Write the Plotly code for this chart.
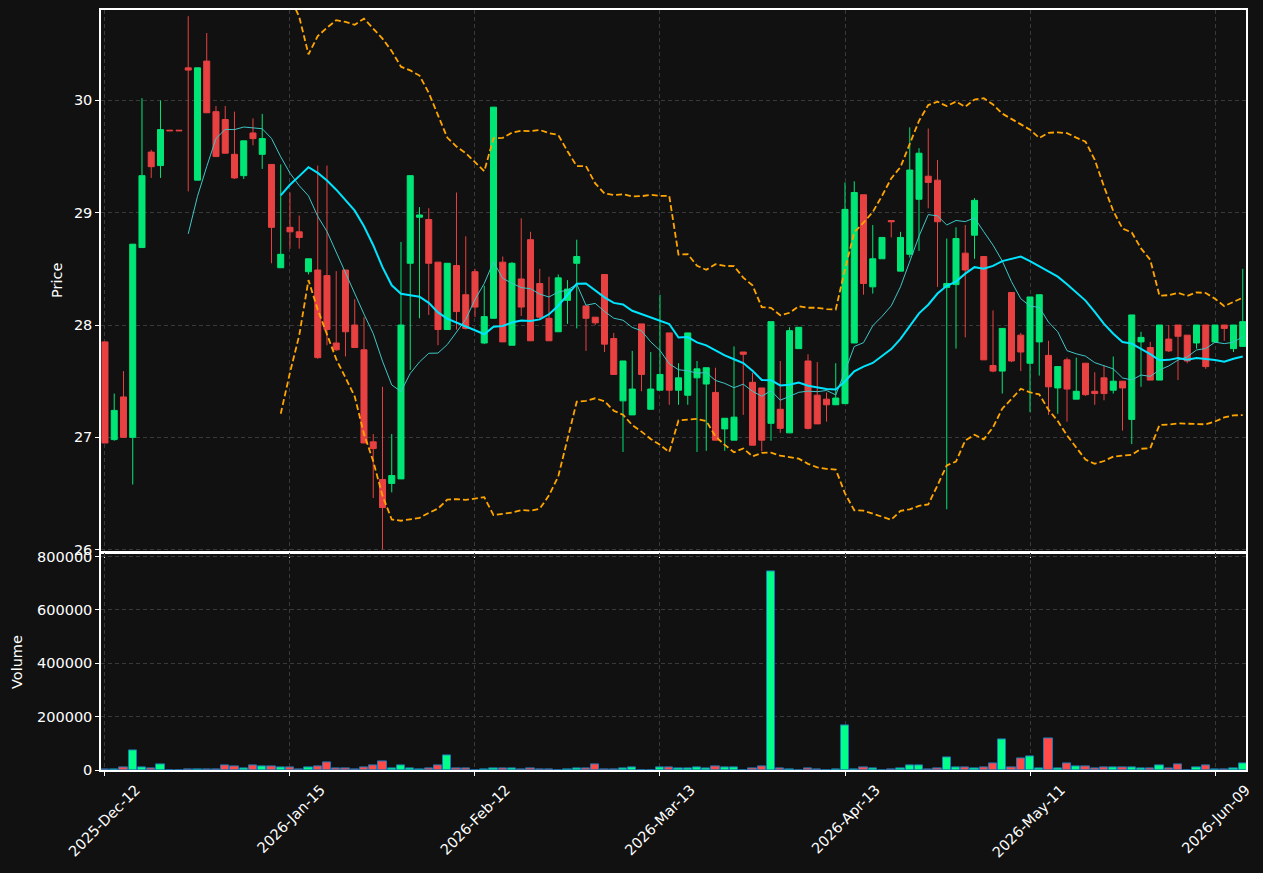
import plotly.graph_objects as go
import pandas as pd

# ---------------- data ----------------
opens = [27.85, 26.98, 27.36, 27.00, 28.69, 29.54, 29.42, 29.735, 29.735, 30.29,
         29.29, 30.35, 29.90, 29.83, 29.52, 29.33, 29.71, 29.52, 29.43, 28.51,
         28.87, 28.83, 28.475, 28.49, 28.44, 27.84, 28.49, 28.00, 27.78, 26.96,
         26.625, 26.59, 26.63, 28.55, 28.96, 28.94, 28.56, 27.96, 28.53, 28.27,
         28.475, 27.84, 28.06, 28.56, 27.82, 28.41, 28.76, 28.37, 28.06, 27.94,
         28.22, 28.55, 28.17, 28.07, 28.45, 27.88, 27.325, 27.20, 28.01, 27.25,
         27.42, 27.93, 27.42, 27.375, 27.53, 27.475, 27.40, 27.075, 26.975, 27.76,
         27.49, 27.44, 27.125, 27.25, 27.04, 27.79, 27.68, 27.375, 27.34, 27.29,
         27.30, 27.84, 29.16, 28.34, 28.59, 28.93, 28.48, 28.63, 29.12, 29.325,
         29.29, 28.335, 28.36, 28.64, 28.80, 28.61, 27.64, 27.59, 28.29, 27.91,
         27.66, 27.85, 27.73, 27.44, 27.69, 27.34, 27.66, 27.41, 27.53, 27.42,
         27.50, 27.16, 27.85, 27.80, 27.51, 27.875, 28.00, 27.91, 27.84, 28.00,
         27.85, 28.00, 27.79, 27.81]

highs = [27.85, 27.39, 27.59, 28.72, 30.02, 29.56, 30.00, 29.735, 29.735, 30.75,
         30.29, 30.60, 29.95, 29.95, 29.90, 29.64, 29.84, 29.88, 29.43, 29.43,
         29.18, 28.975, 28.59, 29.42, 29.42, 28.48, 28.49, 28.23, 28.07, 27.03,
         27.45, 27.03, 28.74, 29.33, 29.05, 29.04, 28.56, 28.55, 29.18, 28.79,
         28.50, 28.35, 29.94, 28.61, 28.56, 28.95, 28.83, 28.50, 28.43, 28.45,
         28.40, 28.76, 28.17, 28.07, 28.45, 27.93, 27.68, 27.77, 28.01, 27.76,
         28.27, 27.93, 27.66, 27.93, 27.68, 27.62, 27.62, 27.17, 27.81, 27.76,
         27.575, 27.44, 28.03, 27.68, 27.98, 27.98, 27.74, 27.67, 27.40, 27.66,
         29.27, 29.28, 29.16, 28.89, 28.78, 28.93, 28.83, 29.76, 29.575, 29.75,
         29.47, 28.77, 28.87, 28.89, 29.13, 28.61, 28.13, 27.97, 28.29, 27.93,
         28.25, 28.27, 27.86, 27.63, 27.71, 27.71, 27.66, 27.58, 27.64, 27.72,
         27.50, 28.09, 27.94, 27.85, 28.00, 28.00, 28.00, 27.91, 28.00, 28.00,
         28.00, 28.00, 28.00, 28.50]

lows = [26.95, 26.97, 27.00, 26.58, 28.69, 29.31, 29.31, 29.73, 29.73, 29.19,
        29.29, 29.89, 29.50, 29.53, 29.30, 29.30, 29.60, 29.39, 28.55, 28.51,
        28.68, 28.68, 28.45, 27.70, 27.82, 27.77, 27.72, 27.80, 26.95, 26.46,
        26.00, 26.51, 26.63, 27.60, 28.06, 28.09, 27.82, 27.96, 27.96, 27.96,
        28.07, 27.83, 28.06, 27.85, 27.82, 28.08, 27.86, 28.05, 27.86, 27.94,
        28.01, 27.97, 27.77, 28.00, 27.76, 27.56, 26.87, 27.20, 27.41, 27.25,
        27.42, 27.29, 27.29, 27.29, 26.87, 26.88, 26.975, 26.88, 26.975, 27.20,
        26.93, 26.875, 26.97, 27.04, 27.04, 27.79, 27.07, 27.12, 27.14, 27.29,
        27.30, 27.84, 28.27, 28.28, 28.59, 28.78, 28.48, 28.60, 28.66, 29.04,
        28.34, 26.36, 27.79, 27.89, 28.59, 27.69, 27.58, 27.39, 27.67, 27.59,
        27.225, 27.55, 27.20, 27.21, 27.14, 27.34, 27.37, 27.29, 27.33, 27.39,
        27.06, 26.94, 27.45, 27.51, 27.51, 27.76, 27.51, 27.66, 27.79, 27.61,
        27.85, 27.86, 27.76, 27.81]

closes = [26.95, 27.24, 27.00, 28.72, 29.33, 29.41, 29.74, 29.73, 29.73, 30.27,
          30.29, 29.89, 29.50, 29.53, 29.31, 29.64, 29.66, 29.66, 28.87, 28.63,
          28.83, 28.78, 28.59, 27.71, 27.96, 27.78, 27.94, 27.80, 26.95, 26.90,
          26.375, 26.66, 28.00, 29.33, 28.98, 28.55, 27.96, 28.55, 28.12, 27.97,
          28.16, 28.075, 29.94, 27.85, 28.55, 28.16, 27.86, 28.07, 27.86, 28.42,
          28.32, 28.61, 28.06, 28.02, 27.83, 27.56, 27.68, 27.43, 27.56, 27.43,
          27.56, 27.42, 27.53, 27.93, 27.61, 27.62, 26.975, 27.17, 27.18, 27.74,
          26.93, 26.975, 28.03, 27.08, 27.95, 27.98, 27.08, 27.12, 27.29, 27.35,
          29.03, 29.18, 28.37, 28.59, 28.78, 28.92, 28.78, 29.38, 29.53, 29.27,
          28.92, 28.37, 28.77, 28.49, 29.11, 27.69, 27.59, 27.97, 27.68, 27.76,
          28.25, 28.27, 27.45, 27.63, 27.43, 27.41, 27.38, 27.39, 27.39, 27.50,
          27.44, 28.09, 27.89, 27.51, 28.00, 27.77, 27.90, 27.68, 28.00, 27.63,
          28.00, 27.97, 28.00, 28.03]

volumes = [2000, 2000, 10000, 74500, 10000, 5000, 21500, 0, 0, 2000,
           2000, 2000, 2000, 17700, 12600, 5000, 17700, 12600, 12600, 8800,
           8800, 1000, 10100, 12600, 29000, 5000, 5000, 1000, 10100, 17700,
           32800, 5000, 17700, 5000, 1000, 5000, 17700, 55500, 5000, 5000,
           0, 2000, 6300, 6300, 6300, 2000, 6300, 2000, 2000, 0,
           2000, 6300, 6300, 21500, 2000, 2000, 6300, 10100, 0, 0,
           10100, 10100, 5000, 5000, 10100, 6300, 13900, 10100, 10100, 0,
           6300, 13900, 744000, 5000, 2000, 0, 6300, 2000, 0, 2000,
           169000, 2000, 10100, 6300, 0, 2000, 6300, 17700, 17700, 2000,
           6300, 48000, 8800, 10100, 5000, 10100, 25200, 116000, 10100, 44200,
           51700, 5000, 120000, 5000, 25200, 12600, 12600, 5000, 10100, 10100,
           10100, 10100, 5000, 5000, 17700, 5000, 21500, 0, 10100, 17700,
           2000, 2000, 6300, 25200]

tick_positions = [0, 20, 40, 60, 80, 100, 120]
tick_labels = ['2025-Dec-12', '2026-Jan-15', '2026-Feb-12', '2026-Mar-13',
               '2026-Apr-13', '2026-May-11', '2026-Jun-09']

price_ticks = [26, 27, 28, 29, 30]
volume_ticks = [0, 200000, 400000, 600000, 800000]

# ---------------- indicators (moving averages / Bollinger bands of the closes) ----
idx = list(range(len(closes)))
cs = pd.Series(closes)
ma10 = cs.rolling(10).mean()
ma20 = cs.rolling(20).mean()
sd20 = cs.rolling(20).std(ddof=0)
bb_up = ma20 + 2 * sd20
bb_lo = ma20 - 2 * sd20

# ---------------- styling ----------------
BG = '#111111'
UP = '#00e676'
DOWN = '#e84142'
VUP = '#00ff88'
VDOWN = '#ff4a4a'
GRID = '#3a3a3a'
FONT = dict(family='DejaVu Sans', size=14.5, color='#ffffff')

vol_colors = [VUP if c > o else VDOWN for o, c in zip(opens, closes)]

fig = go.Figure()

fig.add_trace(go.Candlestick(
    x=idx, open=opens, high=highs, low=lows, close=closes,
    increasing=dict(line=dict(color=UP, width=1), fillcolor=UP),
    decreasing=dict(line=dict(color=DOWN, width=1), fillcolor=DOWN),
    whiskerwidth=0, showlegend=False, xaxis='x', yaxis='y'))

fig.add_trace(go.Scatter(x=idx, y=bb_up, mode='lines', showlegend=False,
                         line=dict(color='#ffa500', width=1.8, dash='6px,3px'),
                         xaxis='x', yaxis='y'))
fig.add_trace(go.Scatter(x=idx, y=bb_lo, mode='lines', showlegend=False,
                         line=dict(color='#ffa500', width=1.8, dash='6px,3px'),
                         xaxis='x', yaxis='y'))
fig.add_trace(go.Scatter(x=idx, y=ma10, mode='lines', showlegend=False,
                         line=dict(color='#3fc6c6', width=1),
                         xaxis='x', yaxis='y'))
fig.add_trace(go.Scatter(x=idx, y=ma20, mode='lines', showlegend=False,
                         line=dict(color='#00e5ff', width=2),
                         xaxis='x', yaxis='y'))

fig.add_trace(go.Bar(x=idx, y=volumes, width=0.9, showlegend=False,
                     marker=dict(color=vol_colors, line=dict(color='#1f77b4', width=1)),
                     xaxis='x2', yaxis='y2'))

axis_common = dict(showline=True, linecolor='#ffffff', linewidth=1.5, mirror=True,
                   ticks='outside', ticklen=4, tickwidth=1, tickcolor='#ffffff',
                   showgrid=True, gridcolor=GRID, griddash='4px,3px', gridwidth=1,
                   zeroline=False, tickfont=FONT, automargin=False)

XR = [-0.43, 123.35]

fig.update_layout(
    width=1263, height=873,
    paper_bgcolor=BG, plot_bgcolor=BG,
    margin=dict(l=101, r=17, t=10, b=103),
    font=FONT,
    boxgap=0.35, boxgroupgap=0,
    bargap=0,
    xaxis=dict(domain=[0, 1], anchor='y', range=XR, tickvals=tick_positions,
               showticklabels=False, rangeslider=dict(visible=False), **axis_common),
    yaxis=dict(domain=[0.2868, 1], anchor='x', range=[25.979, 30.805],
               tickvals=price_ticks, **axis_common),
    xaxis2=dict(domain=[0, 1], anchor='y2', matches='x', range=XR,
                tickvals=tick_positions, ticktext=tick_labels, tickangle=-45,
                ticklabelshift=31, **axis_common),
    yaxis2=dict(domain=[0, 0.2850], anchor='x2', range=[0, 812000],
                tickvals=volume_ticks, tickformat='d', **axis_common),
    annotations=[
        dict(text='Price', xref='paper', yref='paper', x=-0.0384, y=0.6434,
             textangle=-90, showarrow=False, font=FONT,
             xanchor='center', yanchor='middle'),
        dict(text='Volume', xref='paper', yref='paper', x=-0.0734, y=0.142,
             textangle=-90, showarrow=False, font=FONT,
             xanchor='center', yanchor='middle'),
    ],
)

fig.write_html('out.html')
